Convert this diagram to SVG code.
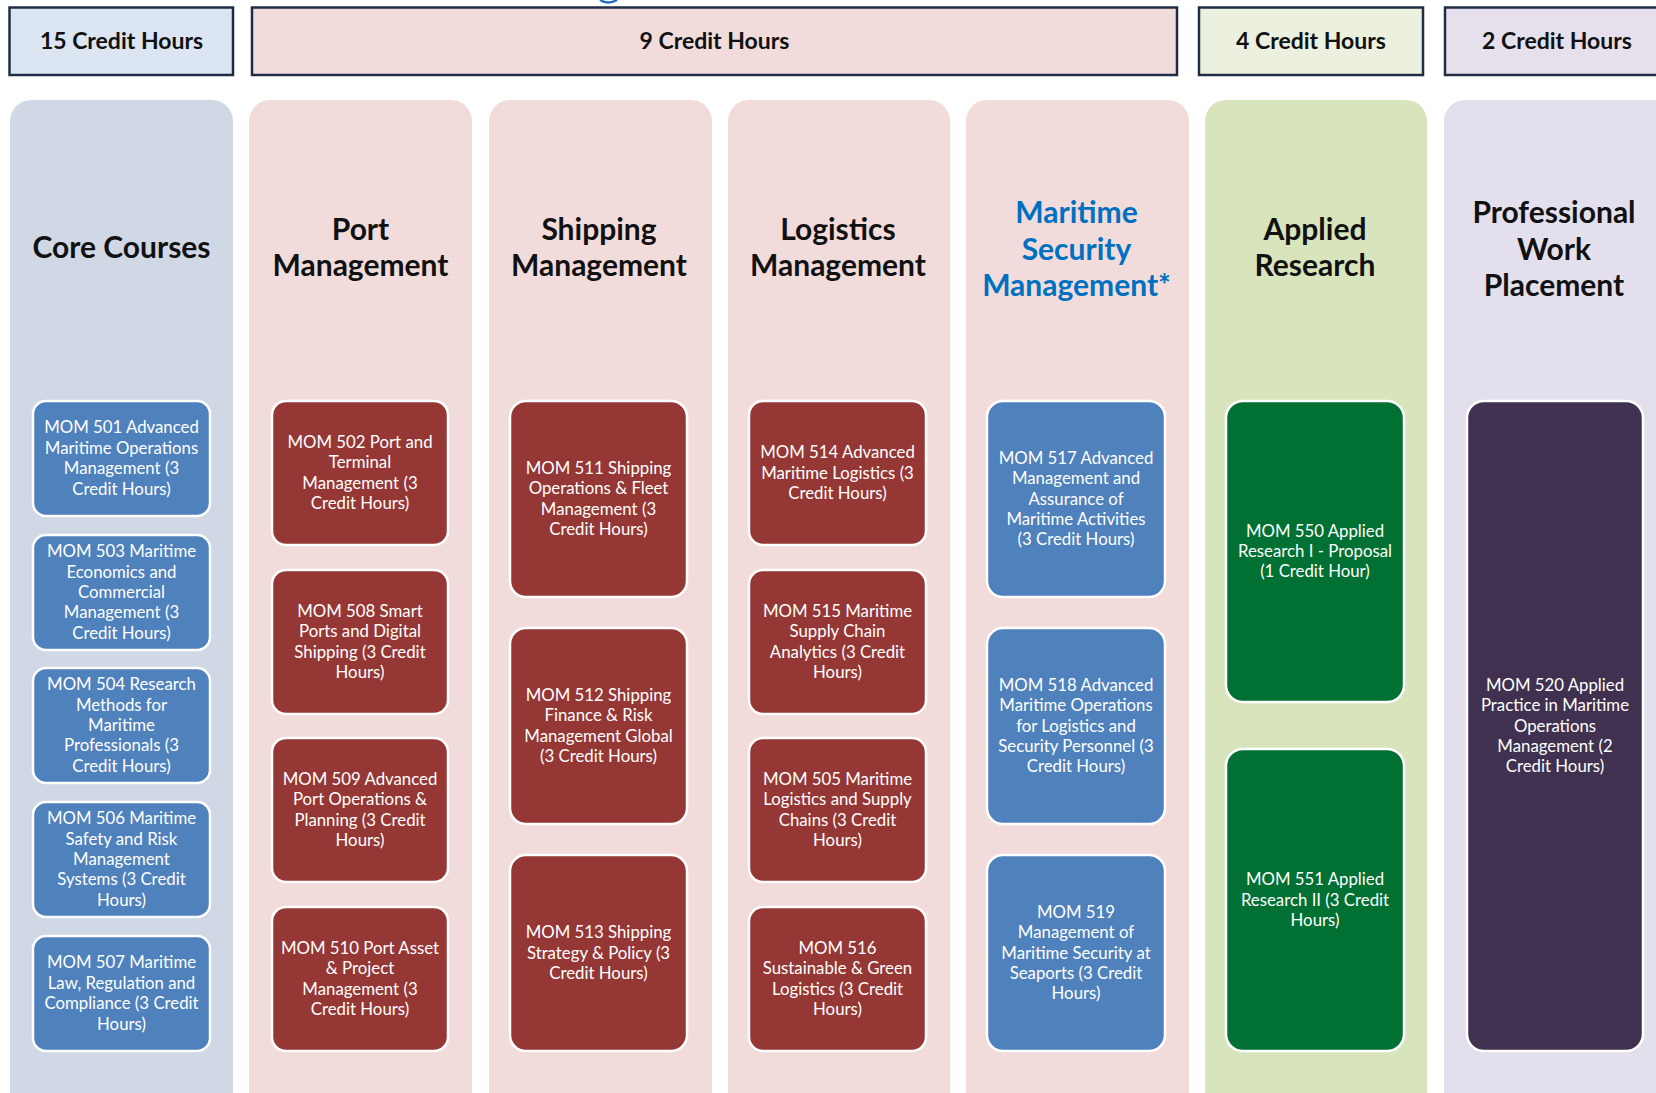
<svg xmlns="http://www.w3.org/2000/svg" width="1656" height="1093" viewBox="0 0 1656 1093">
<style>
.hdr{stroke:#1F2D45;stroke-width:2.5}
.ht{font-family:Lato,"Open Sans",sans-serif;font-weight:bold;font-size:23px;fill:#111;text-anchor:middle}
.ct{font-family:Lato,"Open Sans",sans-serif;font-weight:bold;font-size:30px;fill:#111;text-anchor:middle}
.box{stroke:#fff;stroke-width:2.5}
.bt{font-family:Lato,"Open Sans",sans-serif;font-size:16.8px;fill:#fff;text-anchor:middle}
.blue{fill:#4F81BD}.red{fill:#953735}.green{fill:#007033}.purple{fill:#403151}
</style>
<rect width="1656" height="1093" fill="#fff"/>
<path d="M600,0 Q608,5 617,0" fill="none" stroke="#1F6FBF" stroke-width="2.5"/>
<g id="headers">
<g id="h15"><rect class="hdr" x="9.5" y="7.5" width="223.5" height="67.5" fill="#DCE6F2"/><text class="ht" x="121.5" y="49">15 Credit Hours</text></g>
<g id="h9"><rect class="hdr" x="252" y="7.5" width="925" height="67.5" fill="#F2DCDB"/><text class="ht" x="714.5" y="49">9 Credit Hours</text></g>
<g id="h4"><rect class="hdr" x="1199" y="7.5" width="224" height="67.5" fill="#EBF1DE"/><text class="ht" x="1311" y="49">4 Credit Hours</text></g>
<g id="h2"><rect class="hdr" x="1445" y="7.5" width="224" height="67.5" fill="#E6E0EC"/><text class="ht" x="1557" y="49">2 Credit Hours</text></g>
</g>
<g id="columns">
<g id="col-core"><rect x="10" y="100" width="223" height="1030" rx="21" fill="#D0D8E6"/><text class="ct" x="121.5" y="258">Core Courses</text></g>
<g id="col-port"><rect x="249" y="100" width="223" height="1030" rx="21" fill="#F2DCDB"/><text class="ct" x="360.5" y="240">Port<tspan x="360.5" dy="36">Management</tspan></text></g>
<g id="col-ship"><rect x="489" y="100" width="223" height="1030" rx="21" fill="#F2DCDB"/><text class="ct" x="599" y="240">Shipping<tspan x="599" dy="36">Management</tspan></text></g>
<g id="col-log"><rect x="728" y="100" width="222" height="1030" rx="21" fill="#F2DCDB"/><text class="ct" x="838" y="240">Logistics<tspan x="838" dy="36">Management</tspan></text></g>
<g id="col-sec"><rect x="966" y="100" width="223" height="1030" rx="21" fill="#F2DCDB"/><text class="ct" x="1076.5" y="223" style="fill:#0070C0">Maritime<tspan x="1076.5" dy="36.5">Security</tspan><tspan x="1076.5" dy="36.5">Management*</tspan></text></g>
<g id="col-app"><rect x="1205" y="100" width="222" height="1030" rx="21" fill="#D8E4BC"/><text class="ct" x="1315" y="240">Applied<tspan x="1315" dy="36">Research</tspan></text></g>
<g id="col-prof"><rect x="1444" y="100" width="230" height="1030" rx="21" fill="#E4DFEC"/><text class="ct" x="1554" y="223">Professional<tspan x="1554" dy="36.5">Work</tspan><tspan x="1554" dy="36.5">Placement</tspan></text></g>
</g>
<g id="courses">
<g id="mom501"><rect class="box blue" x="33" y="401" width="177" height="115" rx="13"/><text class="bt" x="121.5" y="433.4">MOM 501 Advanced<tspan x="121.5" dy="20.4">Maritime Operations</tspan><tspan x="121.5" dy="20.4">Management (3</tspan><tspan x="121.5" dy="20.4">Credit Hours)</tspan></text></g>
<g id="mom503"><rect class="box blue" x="33" y="535" width="177" height="115" rx="13"/><text class="bt" x="121.5" y="557.2">MOM 503 Maritime<tspan x="121.5" dy="20.4">Economics and</tspan><tspan x="121.5" dy="20.4">Commercial</tspan><tspan x="121.5" dy="20.4">Management (3</tspan><tspan x="121.5" dy="20.4">Credit Hours)</tspan></text></g>
<g id="mom504"><rect class="box blue" x="33" y="668" width="177" height="115" rx="13"/><text class="bt" x="121.5" y="690.2">MOM 504 Research<tspan x="121.5" dy="20.4">Methods for</tspan><tspan x="121.5" dy="20.4">Maritime</tspan><tspan x="121.5" dy="20.4">Professionals (3</tspan><tspan x="121.5" dy="20.4">Credit Hours)</tspan></text></g>
<g id="mom506"><rect class="box blue" x="33" y="802" width="177" height="115" rx="13"/><text class="bt" x="121.5" y="824.2">MOM 506 Maritime<tspan x="121.5" dy="20.4">Safety and Risk</tspan><tspan x="121.5" dy="20.4">Management</tspan><tspan x="121.5" dy="20.4">Systems (3 Credit</tspan><tspan x="121.5" dy="20.4">Hours)</tspan></text></g>
<g id="mom507"><rect class="box blue" x="33" y="936" width="177" height="115" rx="13"/><text class="bt" x="121.5" y="968.4">MOM 507 Maritime<tspan x="121.5" dy="20.4">Law, Regulation and</tspan><tspan x="121.5" dy="20.4">Compliance (3 Credit</tspan><tspan x="121.5" dy="20.4">Hours)</tspan></text></g>

<g id="mom502"><rect class="box red" x="272" y="401" width="176" height="144" rx="14"/><text class="bt" x="360" y="447.9">MOM 502 Port and<tspan x="360" dy="20.4">Terminal</tspan><tspan x="360" dy="20.4">Management (3</tspan><tspan x="360" dy="20.4">Credit Hours)</tspan></text></g>
<g id="mom508"><rect class="box red" x="272" y="570" width="176" height="144" rx="14"/><text class="bt" x="360" y="616.9">MOM 508 Smart<tspan x="360" dy="20.4">Ports and Digital</tspan><tspan x="360" dy="20.4">Shipping (3 Credit</tspan><tspan x="360" dy="20.4">Hours)</tspan></text></g>
<g id="mom509"><rect class="box red" x="272" y="738" width="176" height="144" rx="14"/><text class="bt" x="360" y="784.9">MOM 509 Advanced<tspan x="360" dy="20.4">Port Operations &amp;</tspan><tspan x="360" dy="20.4">Planning (3 Credit</tspan><tspan x="360" dy="20.4">Hours)</tspan></text></g>
<g id="mom510"><rect class="box red" x="272" y="907" width="176" height="144" rx="14"/><text class="bt" x="360" y="953.9">MOM 510 Port Asset<tspan x="360" dy="20.4">&amp; Project</tspan><tspan x="360" dy="20.4">Management (3</tspan><tspan x="360" dy="20.4">Credit Hours)</tspan></text></g>

<g id="mom511"><rect class="box red" x="510" y="401" width="177" height="196" rx="16"/><text class="bt" x="598.5" y="473.9">MOM 511 Shipping<tspan x="598.5" dy="20.4">Operations &amp; Fleet</tspan><tspan x="598.5" dy="20.4">Management (3</tspan><tspan x="598.5" dy="20.4">Credit Hours)</tspan></text></g>
<g id="mom512"><rect class="box red" x="510" y="628" width="177" height="196" rx="16"/><text class="bt" x="598.5" y="700.9">MOM 512 Shipping<tspan x="598.5" dy="20.4">Finance &amp; Risk</tspan><tspan x="598.5" dy="20.4">Management Global</tspan><tspan x="598.5" dy="20.4">(3 Credit Hours)</tspan></text></g>
<g id="mom513"><rect class="box red" x="510" y="855" width="177" height="196" rx="16"/><text class="bt" x="598.5" y="938.1">MOM 513 Shipping<tspan x="598.5" dy="20.4">Strategy &amp; Policy (3</tspan><tspan x="598.5" dy="20.4">Credit Hours)</tspan></text></g>

<g id="mom514"><rect class="box red" x="749" y="401" width="177" height="144" rx="14"/><text class="bt" x="837.5" y="458.1">MOM 514 Advanced<tspan x="837.5" dy="20.4">Maritime Logistics (3</tspan><tspan x="837.5" dy="20.4">Credit Hours)</tspan></text></g>
<g id="mom515"><rect class="box red" x="749" y="570" width="177" height="144" rx="14"/><text class="bt" x="837.5" y="616.9">MOM 515 Maritime<tspan x="837.5" dy="20.4">Supply Chain</tspan><tspan x="837.5" dy="20.4">Analytics (3 Credit</tspan><tspan x="837.5" dy="20.4">Hours)</tspan></text></g>
<g id="mom505"><rect class="box red" x="749" y="738" width="177" height="144" rx="14"/><text class="bt" x="837.5" y="784.9">MOM 505 Maritime<tspan x="837.5" dy="20.4">Logistics and Supply</tspan><tspan x="837.5" dy="20.4">Chains (3 Credit</tspan><tspan x="837.5" dy="20.4">Hours)</tspan></text></g>
<g id="mom516"><rect class="box red" x="749" y="907" width="177" height="144" rx="14"/><text class="bt" x="837.5" y="953.9">MOM 516<tspan x="837.5" dy="20.4">Sustainable &amp; Green</tspan><tspan x="837.5" dy="20.4">Logistics (3 Credit</tspan><tspan x="837.5" dy="20.4">Hours)</tspan></text></g>

<g id="mom517"><rect class="box blue" x="987" y="401" width="178" height="196" rx="16"/><text class="bt" x="1076" y="463.7">MOM 517 Advanced<tspan x="1076" dy="20.4">Management and</tspan><tspan x="1076" dy="20.4">Assurance of</tspan><tspan x="1076" dy="20.4">Maritime Activities</tspan><tspan x="1076" dy="20.4">(3 Credit Hours)</tspan></text></g>
<g id="mom518"><rect class="box blue" x="987" y="628" width="178" height="196" rx="16"/><text class="bt" x="1076" y="690.7">MOM 518 Advanced<tspan x="1076" dy="20.4">Maritime Operations</tspan><tspan x="1076" dy="20.4">for Logistics and</tspan><tspan x="1076" dy="20.4">Security Personnel (3</tspan><tspan x="1076" dy="20.4">Credit Hours)</tspan></text></g>
<g id="mom519"><rect class="box blue" x="987" y="855" width="178" height="196" rx="16"/><text class="bt" x="1076" y="917.7">MOM 519<tspan x="1076" dy="20.4">Management of</tspan><tspan x="1076" dy="20.4">Maritime Security at</tspan><tspan x="1076" dy="20.4">Seaports (3 Credit</tspan><tspan x="1076" dy="20.4">Hours)</tspan></text></g>

<g id="mom550"><rect class="box green" x="1226" y="401" width="178" height="301" rx="17"/><text class="bt" x="1315" y="536.6">MOM 550 Applied<tspan x="1315" dy="20.4">Research I - Proposal</tspan><tspan x="1315" dy="20.4">(1 Credit Hour)</tspan></text></g>
<g id="mom551"><rect class="box green" x="1226" y="749" width="178" height="302" rx="17"/><text class="bt" x="1315" y="885.1">MOM 551 Applied<tspan x="1315" dy="20.4">Research II (3 Credit</tspan><tspan x="1315" dy="20.4">Hours)</tspan></text></g>

<g id="mom520"><rect class="box purple" x="1467" y="401" width="176" height="650" rx="17"/><text class="bt" x="1555" y="690.7">MOM 520 Applied<tspan x="1555" dy="20.4">Practice in Maritime</tspan><tspan x="1555" dy="20.4">Operations</tspan><tspan x="1555" dy="20.4">Management (2</tspan><tspan x="1555" dy="20.4">Credit Hours)</tspan></text></g>
</g>
<g id="connectors"/>
</svg>
